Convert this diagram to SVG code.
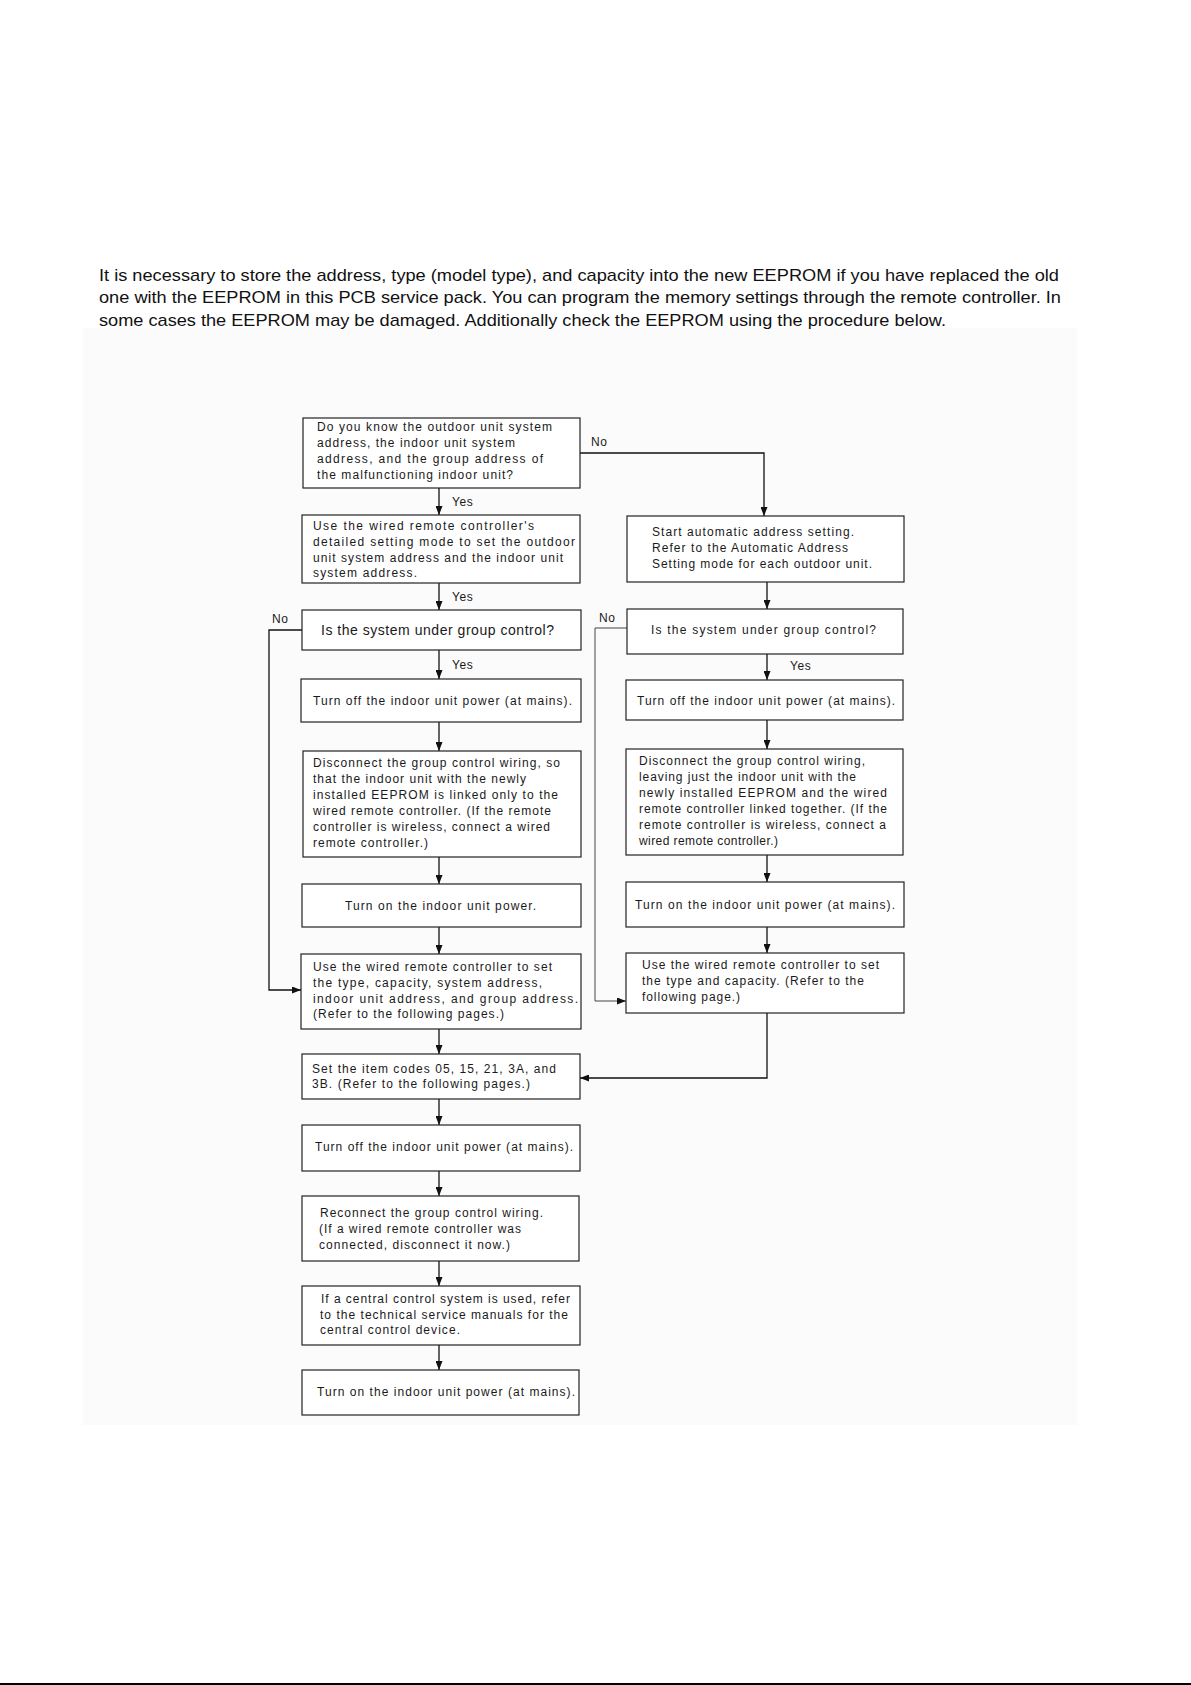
<svg xmlns="http://www.w3.org/2000/svg" width="1191" height="1685" viewBox="0 0 1191 1685">
<defs>
<style>
.hdr{font-family:"Liberation Sans",Arial,sans-serif;font-size:17px;fill:#111}
.t{font-family:"Liberation Sans",Arial,sans-serif;font-size:12px;fill:#1a1a1a}
.big{font-size:14px}
.box{fill:#fff;stroke:#222;stroke-width:1.2}
.c{fill:none;stroke:#111;stroke-width:1.3}
.c2{fill:none;stroke:#444;stroke-width:1}
</style>
<marker id="ah" viewBox="0 0 9 7" refX="9" refY="3.5" markerWidth="9" markerHeight="7" markerUnits="userSpaceOnUse" orient="auto">
<path d="M0,0 L9,3.5 L0,7 z" fill="#111"/>
</marker>
</defs>
<rect width="1191" height="1685" fill="#fff"/>
<rect x="83" y="328" width="994" height="1097" fill="#fbfbfb"/>
<rect x="0" y="1683" width="1191" height="2" fill="#000"/>

<g id="intro">
<text class="hdr" x="99" y="281" textLength="960" lengthAdjust="spacingAndGlyphs">It is necessary to store the address, type (model type), and capacity into the new EEPROM if you have replaced the old</text>
<text class="hdr" x="99" y="303" textLength="962" lengthAdjust="spacingAndGlyphs">one with the EEPROM in this PCB service pack. You can program the memory settings through the remote controller. In</text>
<text class="hdr" x="99" y="326" textLength="847" lengthAdjust="spacingAndGlyphs">some cases the EEPROM may be damaged. Additionally check the EEPROM using the procedure below.</text>
</g>

<g id="connectors">
<path class="c" d="M439,488 V515" marker-end="url(#ah)"/>
<path class="c" d="M439,583 V610" marker-end="url(#ah)"/>
<path class="c" d="M439,650 V679" marker-end="url(#ah)"/>
<path class="c" d="M439,722 V751" marker-end="url(#ah)"/>
<path class="c" d="M439,857 V884" marker-end="url(#ah)"/>
<path class="c" d="M439,927 V954" marker-end="url(#ah)"/>
<path class="c" d="M439,1029 V1054" marker-end="url(#ah)"/>
<path class="c" d="M439,1099 V1125" marker-end="url(#ah)"/>
<path class="c" d="M439,1171 V1196" marker-end="url(#ah)"/>
<path class="c" d="M439,1261 V1286" marker-end="url(#ah)"/>
<path class="c" d="M439,1345 V1370" marker-end="url(#ah)"/>
<path class="c" d="M580,453 H764 V516" marker-end="url(#ah)"/>
<path class="c" d="M767,582 V609" marker-end="url(#ah)"/>
<path class="c" d="M767,654 V680" marker-end="url(#ah)"/>
<path class="c" d="M767,720 V749" marker-end="url(#ah)"/>
<path class="c" d="M767,855 V882" marker-end="url(#ah)"/>
<path class="c" d="M767,927 V953" marker-end="url(#ah)"/>
<path class="c" d="M767,1013 V1078 H580" marker-end="url(#ah)"/>
<path class="c" d="M302,630 H269 V990 H301" marker-end="url(#ah)"/>
<path class="c2" d="M627,628 H595 V1001 H626" marker-end="url(#ah)"/>
<text class="t" x="452" y="506" letter-spacing="0.6">Yes</text>
<text class="t" x="452" y="601" letter-spacing="0.6">Yes</text>
<text class="t" x="452" y="669" letter-spacing="0.6">Yes</text>
<text class="t" x="790" y="670" letter-spacing="0.6">Yes</text>
<text class="t" x="591" y="446" letter-spacing="0.6">No</text>
<text class="t" x="272" y="623" letter-spacing="0.6">No</text>
<text class="t" x="599" y="622" letter-spacing="0.6">No</text>
</g>

<g id="n1">
<rect class="box" x="303" y="418" width="277" height="70"/>
<text class="t" x="317" y="431" textLength="235">Do you know the outdoor unit system</text>
<text class="t" x="317" y="447" textLength="198">address, the indoor unit system</text>
<text class="t" x="317" y="463" textLength="226">address, and the group address of</text>
<text class="t" x="317" y="479" textLength="196">the malfunctioning indoor unit?</text>
</g>
<g id="n2">
<rect class="box" x="302" y="515" width="278" height="68"/>
<text class="t" x="313" y="530" textLength="221">Use the wired remote controller's</text>
<text class="t" x="313" y="546" textLength="262">detailed setting mode to set the outdoor</text>
<text class="t" x="313" y="562" textLength="250">unit system address and the indoor unit</text>
<text class="t" x="313" y="577" textLength="104">system address.</text>
</g>
<g id="n3">
<rect class="box" x="302" y="610" width="279" height="40"/>
<text class="t big" x="321" y="635" textLength="233">Is the system under group control?</text>
</g>
<g id="n4">
<rect class="box" x="301" y="679" width="280" height="43"/>
<text class="t" x="313" y="705" textLength="259">Turn off the indoor unit power (at mains).</text>
</g>
<g id="n5">
<rect class="box" x="303" y="751" width="278" height="106"/>
<text class="t" x="313" y="767" textLength="247">Disconnect the group control wiring, so</text>
<text class="t" x="313" y="783" textLength="213">that the indoor unit with the newly</text>
<text class="t" x="313" y="799" textLength="245">installed EEPROM is linked only to the</text>
<text class="t" x="313" y="815" textLength="238">wired remote controller. (If the remote</text>
<text class="t" x="313" y="831" textLength="237">controller is wireless, connect a wired</text>
<text class="t" x="313" y="847" textLength="115">remote controller.)</text>
</g>
<g id="n6">
<rect class="box" x="302" y="884" width="279" height="43"/>
<text class="t" x="345" y="910" textLength="191">Turn on the indoor unit power.</text>
</g>
<g id="n7">
<rect class="box" x="301" y="954" width="280" height="75"/>
<text class="t" x="313" y="971" textLength="239">Use the wired remote controller to set</text>
<text class="t" x="313" y="987" textLength="229">the type, capacity, system address,</text>
<text class="t" x="313" y="1003" textLength="265">indoor unit address, and group address.</text>
<text class="t" x="313" y="1018" textLength="191">(Refer to the following pages.)</text>
</g>

<g id="r1">
<rect class="box" x="627" y="516" width="277" height="66"/>
<text class="t" x="652" y="536" textLength="202">Start automatic address setting.</text>
<text class="t" x="652" y="552" textLength="196">Refer to the Automatic Address</text>
<text class="t" x="652" y="568" textLength="220">Setting mode for each outdoor unit.</text>
</g>
<g id="r2">
<rect class="box" x="627" y="609" width="276" height="45"/>
<text class="t" x="651" y="634" textLength="225">Is the system under group control?</text>
</g>
<g id="r3">
<rect class="box" x="626" y="680" width="277" height="40"/>
<text class="t" x="637" y="705" textLength="258">Turn off the indoor unit power (at mains).</text>
</g>
<g id="r4">
<rect class="box" x="626" y="749" width="277" height="106"/>
<text class="t" x="639" y="765" textLength="226">Disconnect the group control wiring,</text>
<text class="t" x="639" y="781" textLength="217">leaving just the indoor unit with the</text>
<text class="t" x="639" y="797" textLength="248">newly installed EEPROM and the wired</text>
<text class="t" x="639" y="813" textLength="248">remote controller linked together. (If the</text>
<text class="t" x="639" y="829" textLength="247">remote controller is wireless, connect a</text>
<text class="t" x="639" y="845" textLength="139">wired remote controller.)</text>
</g>
<g id="r5">
<rect class="box" x="626" y="882" width="278" height="45"/>
<text class="t" x="635" y="909" textLength="260">Turn on the indoor unit power (at mains).</text>
</g>
<g id="r6">
<rect class="box" x="626" y="953" width="278" height="60"/>
<text class="t" x="642" y="969" textLength="237">Use the wired remote controller to set</text>
<text class="t" x="642" y="985" textLength="222">the type and capacity. (Refer to the</text>
<text class="t" x="642" y="1001" textLength="98">following page.)</text>
</g>

<g id="b1">
<rect class="box" x="302" y="1054" width="278" height="45"/>
<text class="t" x="312" y="1073" textLength="244">Set the item codes 05, 15, 21, 3A, and</text>
<text class="t" x="312" y="1088" textLength="218">3B. (Refer to the following pages.)</text>
</g>
<g id="b2">
<rect class="box" x="302" y="1125" width="278" height="46"/>
<text class="t" x="315" y="1151" textLength="258">Turn off the indoor unit power (at mains).</text>
</g>
<g id="b3">
<rect class="box" x="302" y="1196" width="277" height="65"/>
<text class="t" x="320" y="1217" textLength="223">Reconnect the group control wiring.</text>
<text class="t" x="319" y="1233" textLength="202">(If a wired remote controller was</text>
<text class="t" x="319" y="1249" textLength="191">connected, disconnect it now.)</text>
</g>
<g id="b4">
<rect class="box" x="302" y="1286" width="278" height="59"/>
<text class="t" x="321" y="1303" textLength="249">If a central control system is used, refer</text>
<text class="t" x="320" y="1319" textLength="248">to the technical service manuals for the</text>
<text class="t" x="320" y="1334" textLength="140">central control device.</text>
</g>
<g id="b5">
<rect class="box" x="302" y="1370" width="277" height="45"/>
<text class="t" x="317" y="1396" textLength="258">Turn on the indoor unit power (at mains).</text>
</g>
</svg>
